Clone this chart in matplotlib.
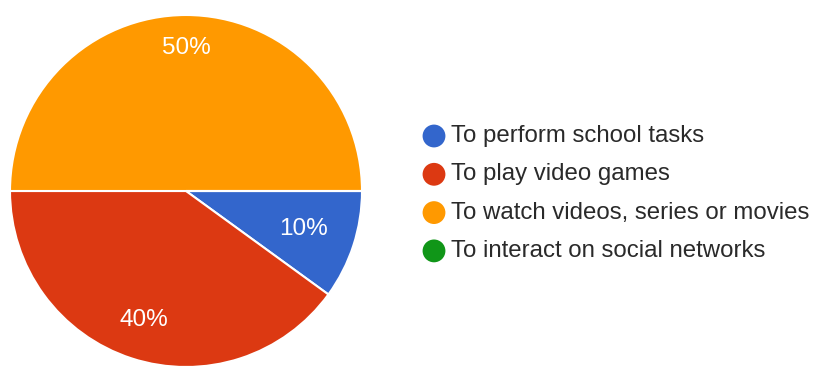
import matplotlib.pyplot as plt
import numpy as np

# Survey answers: why students use their devices
labels = ['To perform school tasks', 'To play video games',
          'To watch videos, series or movies', 'To interact on social networks']
shares = [10, 40, 50, 0]
colors = ['#3366cc', '#dc3912', '#ff9900', '#109618']

plt.rcParams['font.family'] = ['Liberation Sans', 'DejaVu Sans']

fig = plt.figure(figsize=(8.21, 3.72), dpi=100)
ax = fig.add_axes([0, 0, 1, 1])

# pixel-like coordinates so the pie and legend can be laid out together
cx, cy, r = 186, 181, 176
wedges, _ = ax.pie(shares, colors=colors, startangle=0, counterclock=False,
                   center=(cx, cy), radius=r,
                   wedgeprops=dict(edgecolor='white', linewidth=1.5))
ax.set_xlim(0, 821)
ax.set_ylim(0, 372)
ax.set_aspect('equal')
ax.axis('off')

# percentage labels inside the slices
label_dist = [0.70, 0.77, 0.81, 0.7]
for w, v, d in zip(wedges, shares, label_dist):
    if v == 0:
        continue
    ang = np.deg2rad((w.theta1 + w.theta2) / 2)
    ax.text(cx + d * r * np.cos(ang), cy + d * r * np.sin(ang), f'{v}%',
            color='white', fontsize=17.5, ha='center', va='center')

# legend with round markers
for i, (lab, col) in enumerate(zip(labels, colors)):
    y = 372 - (136 + 38.3 * i)
    ax.scatter(434, y, s=270, color=col, edgecolors='none', clip_on=False)
    ax.text(451, y, lab, fontsize=17.3, color='#2a2a2a', ha='left', va='center')

fig.savefig('out.png', dpi=100, facecolor='white')
